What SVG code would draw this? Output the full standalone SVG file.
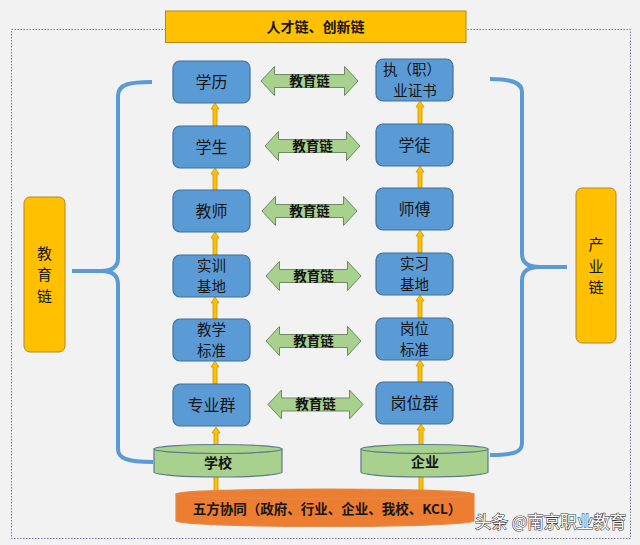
<svg xmlns="http://www.w3.org/2000/svg" width="640" height="545" viewBox="0 0 640 545">
<defs>
<style>
.bg{fill:#F2F2F2}
.frame{fill:none;stroke:#7B7BA0;stroke-width:1;stroke-dasharray:1.5 1.5}
.gold{fill:#FFC000;stroke:#B08A20;stroke-width:1}
.node{fill:#5B9BD5;stroke:#41719C;stroke-width:1.2}
.nt{font-family:"Noto Sans CJK SC","Noto Sans CJK JP",sans-serif;font-size:16px;fill:#141414;text-anchor:middle}
.nt2{font-family:"Noto Sans CJK SC","Noto Sans CJK JP",sans-serif;font-size:14.5px;fill:#141414;text-anchor:middle}
.ct{font-family:"Noto Sans CJK SC","Noto Sans CJK JP",sans-serif;font-size:13.5px;font-weight:bold;fill:#141414;text-anchor:middle}
.dbl{fill:#A9D18E;stroke:#6E8A62;stroke-width:1}
.up{fill:#FFC000;stroke:#C89400;stroke-width:0.8}
.brace{fill:none;stroke:#5B9BD5;stroke-width:4;stroke-linecap:butt}
.cyl{fill:#A9D18E;stroke:#5A7A8C;stroke-width:1.2}
.cylo{fill:#ED7D31;stroke:#E08A4A;stroke-width:1.2}
.wm{font-family:"Noto Sans CJK SC",sans-serif;font-size:16.5px;fill:#FFFFFF;stroke:#3A3A3A;stroke-width:1.1;paint-order:stroke}
</style>
</defs>
<rect class="bg" x="0" y="0" width="640" height="545"/>
<rect class="frame" x="11.5" y="29.5" width="619" height="509"/>

<g id="connectors">
<path class="brace" d="M152,82 C130,82 118,84 118,96 V258 C118,267 112,271 101,271 H72 M101,271 C112,271 118,275 118,284 V449 C118,458 126,462 153,462"/>
<path class="brace" d="M490,79 C510,79 522,82 522,92 V254 C522,263 528,267 540,267 H567 M540,267 C528,267 522,271 522,280 V443 C522,452 515,455 490,455"/>
<path class="up" d="M213,126 V109 H211 L215,103 L219,109 H217 V126 Z"/>
<path class="up" d="M213,190 V174 H211 L215,168 L219,174 H217 V190 Z"/>
<path class="up" d="M213,255 V238 H211 L215,232 L219,238 H217 V255 Z"/>
<path class="up" d="M213,319 V303 H211 L215,297 L219,303 H217 V319 Z"/>
<path class="up" d="M213,384 V367 H211 L215,361 L219,367 H217 V384 Z"/>
<path class="up" d="M214,448 V433 H212 L216,427 L220,433 H218 V448 Z"/>
<path class="up" d="M214,493 V468 H218 V493 Z"/>
<path class="up" d="M418,124 V107 H416 L420,101 L424,107 H422 V124 Z"/>
<path class="up" d="M418,188 V172 H416 L420,166 L424,172 H422 V188 Z"/>
<path class="up" d="M418,253 V236 H416 L420,230 L424,236 H422 V253 Z"/>
<path class="up" d="M418,318 V301 H416 L420,295 L424,301 H422 V318 Z"/>
<path class="up" d="M418,382 V366 H416 L420,360 L424,366 H422 V382 Z"/>
<path class="up" d="M419,446 V430 H417 L421,424 L425,430 H423 V446 Z"/>
<path class="up" d="M419,491 V468 H423 V491 Z"/>
</g>

<g id="title">
<rect class="gold" x="165.5" y="11" width="300.5" height="31.5"/>
<text class="ct" x="315.5" y="31.5" style="font-size:14px">人才链、创新链</text>
</g>

<g id="side-edu">
<rect class="gold" x="24" y="197" width="41" height="155" rx="6"/>
<text class="nt2" style="font-size:15px"><tspan x="44.5" y="258.5">教</tspan><tspan x="44.5" y="280">育</tspan><tspan x="44.5" y="301.5">链</tspan></text>
</g>
<g id="side-ind">
<rect class="gold" x="576" y="188" width="40" height="155" rx="6"/>
<text class="nt2" style="font-size:15px"><tspan x="596" y="250">产</tspan><tspan x="596" y="271.5">业</tspan><tspan x="596" y="293">链</tspan></text>
</g>

<g id="n-xueli"><rect class="node" x="173" y="61" width="77" height="42" rx="7"/><text class="nt" x="211.5" y="87.5">学历</text></g>
<g id="n-xuesheng"><rect class="node" x="173" y="126" width="77" height="42" rx="7"/><text class="nt" x="211.5" y="152.5">学生</text></g>
<g id="n-jiaoshi"><rect class="node" x="173" y="190" width="77" height="42" rx="7"/><text class="nt" x="211.5" y="216.5">教师</text></g>
<g id="n-shixun"><rect class="node" x="173" y="255" width="77" height="42" rx="7"/><text class="nt2"><tspan x="211.5" y="270.5">实训</tspan><tspan x="211.5" y="291.5">基地</tspan></text></g>
<g id="n-jiaoxue"><rect class="node" x="173" y="319" width="77" height="42" rx="7"/><text class="nt2"><tspan x="211.5" y="334.5">教学</tspan><tspan x="211.5" y="355.5">标准</tspan></text></g>
<g id="n-zhuanye"><rect class="node" x="173" y="384" width="77" height="42" rx="7"/><text class="nt" x="211.5" y="410.5">专业群</text></g>

<g id="n-zhengshu"><rect class="node" x="376" y="59" width="77" height="42" rx="7"/><text class="nt2"><tspan x="412" y="74.5">执（职）</tspan><tspan x="415" y="95.5">业证书</tspan></text></g>
<g id="n-xuetu"><rect class="node" x="376" y="124" width="77" height="42" rx="7"/><text class="nt" x="414.5" y="150.5">学徒</text></g>
<g id="n-shifu"><rect class="node" x="376" y="188" width="77" height="42" rx="7"/><text class="nt" x="414.5" y="214.5">师傅</text></g>
<g id="n-shixi"><rect class="node" x="376" y="253" width="77" height="42" rx="7"/><text class="nt2"><tspan x="414.5" y="268.5">实习</tspan><tspan x="414.5" y="289.5">基地</tspan></text></g>
<g id="n-gangwei"><rect class="node" x="376" y="318" width="77" height="42" rx="7"/><text class="nt2"><tspan x="414.5" y="333.5">岗位</tspan><tspan x="414.5" y="354.5">标准</tspan></text></g>
<g id="n-gangweiqun"><rect class="node" x="376" y="382" width="77" height="42" rx="7"/><text class="nt" x="414.5" y="408.5">岗位群</text></g>

<g id="links">
<g id="l1"><path class="dbl" d="M261,81 L274.5,66.5 V74.5 H344.5 V66.5 L358,81 L344.5,95.5 V87.5 H274.5 V95.5 Z"/><text class="ct" x="309.5" y="85.7">教育链</text></g>
<g id="l2"><path class="dbl" d="M265,146 L278.5,131.5 V139.5 H346.5 V131.5 L360,146 L346.5,160.5 V152.5 H278.5 V160.5 Z"/><text class="ct" x="312.5" y="150.7">教育链</text></g>
<g id="l3"><path class="dbl" d="M262,211 L275.5,196.5 V204.5 H343.5 V196.5 L357,211 L343.5,225.5 V217.5 H275.5 V225.5 Z"/><text class="ct" x="309.5" y="215.7">教育链</text></g>
<g id="l4"><path class="dbl" d="M266,276 L279.5,261.5 V269.5 H347.5 V261.5 L361,276 L347.5,290.5 V282.5 H279.5 V290.5 Z"/><text class="ct" x="313.5" y="280.7">教育链</text></g>
<g id="l5"><path class="dbl" d="M266,341 L279.5,326.5 V334.5 H347.5 V326.5 L361,341 L347.5,355.5 V347.5 H279.5 V355.5 Z"/><text class="ct" x="313.5" y="345.7">教育链</text></g>
<g id="l6"><path class="dbl" d="M268,404.5 L281.5,390 V398 H349.5 V390 L363,404.5 L349.5,419 V411 H281.5 V419 Z"/><text class="ct" x="315.5" y="409.2">教育链</text></g>
</g>

<g id="wufang">
<path class="cylo" d="M176,494 V521 A149,5.5 0 0 0 474,521 V494 Z"/>
<ellipse class="cylo" cx="325" cy="494" rx="149" ry="5"/>
<text class="ct" x="327" y="514" style="font-size:13.5px">五方协同（政府、行业、企业、我校、KCL）</text>
</g>
<g id="school">
<path class="cyl" d="M154,449 V472 A64,5 0 0 0 282,472 V449 Z"/>
<ellipse class="cyl" cx="218" cy="449" rx="64" ry="4.5"/>
<text class="ct" x="218" y="468" style="font-size:14px">学校</text>
</g>
<g id="enterprise">
<path class="cyl" d="M361,449 V472 A63.5,5 0 0 0 488,472 V449 Z"/>
<ellipse class="cyl" cx="424.5" cy="449" rx="63.5" ry="4.5"/>
<text class="ct" x="425" y="467" style="font-size:14px">企业</text>
</g>

<text class="wm" x="475" y="527.5">头条 @南京职业教育</text>
</svg>
